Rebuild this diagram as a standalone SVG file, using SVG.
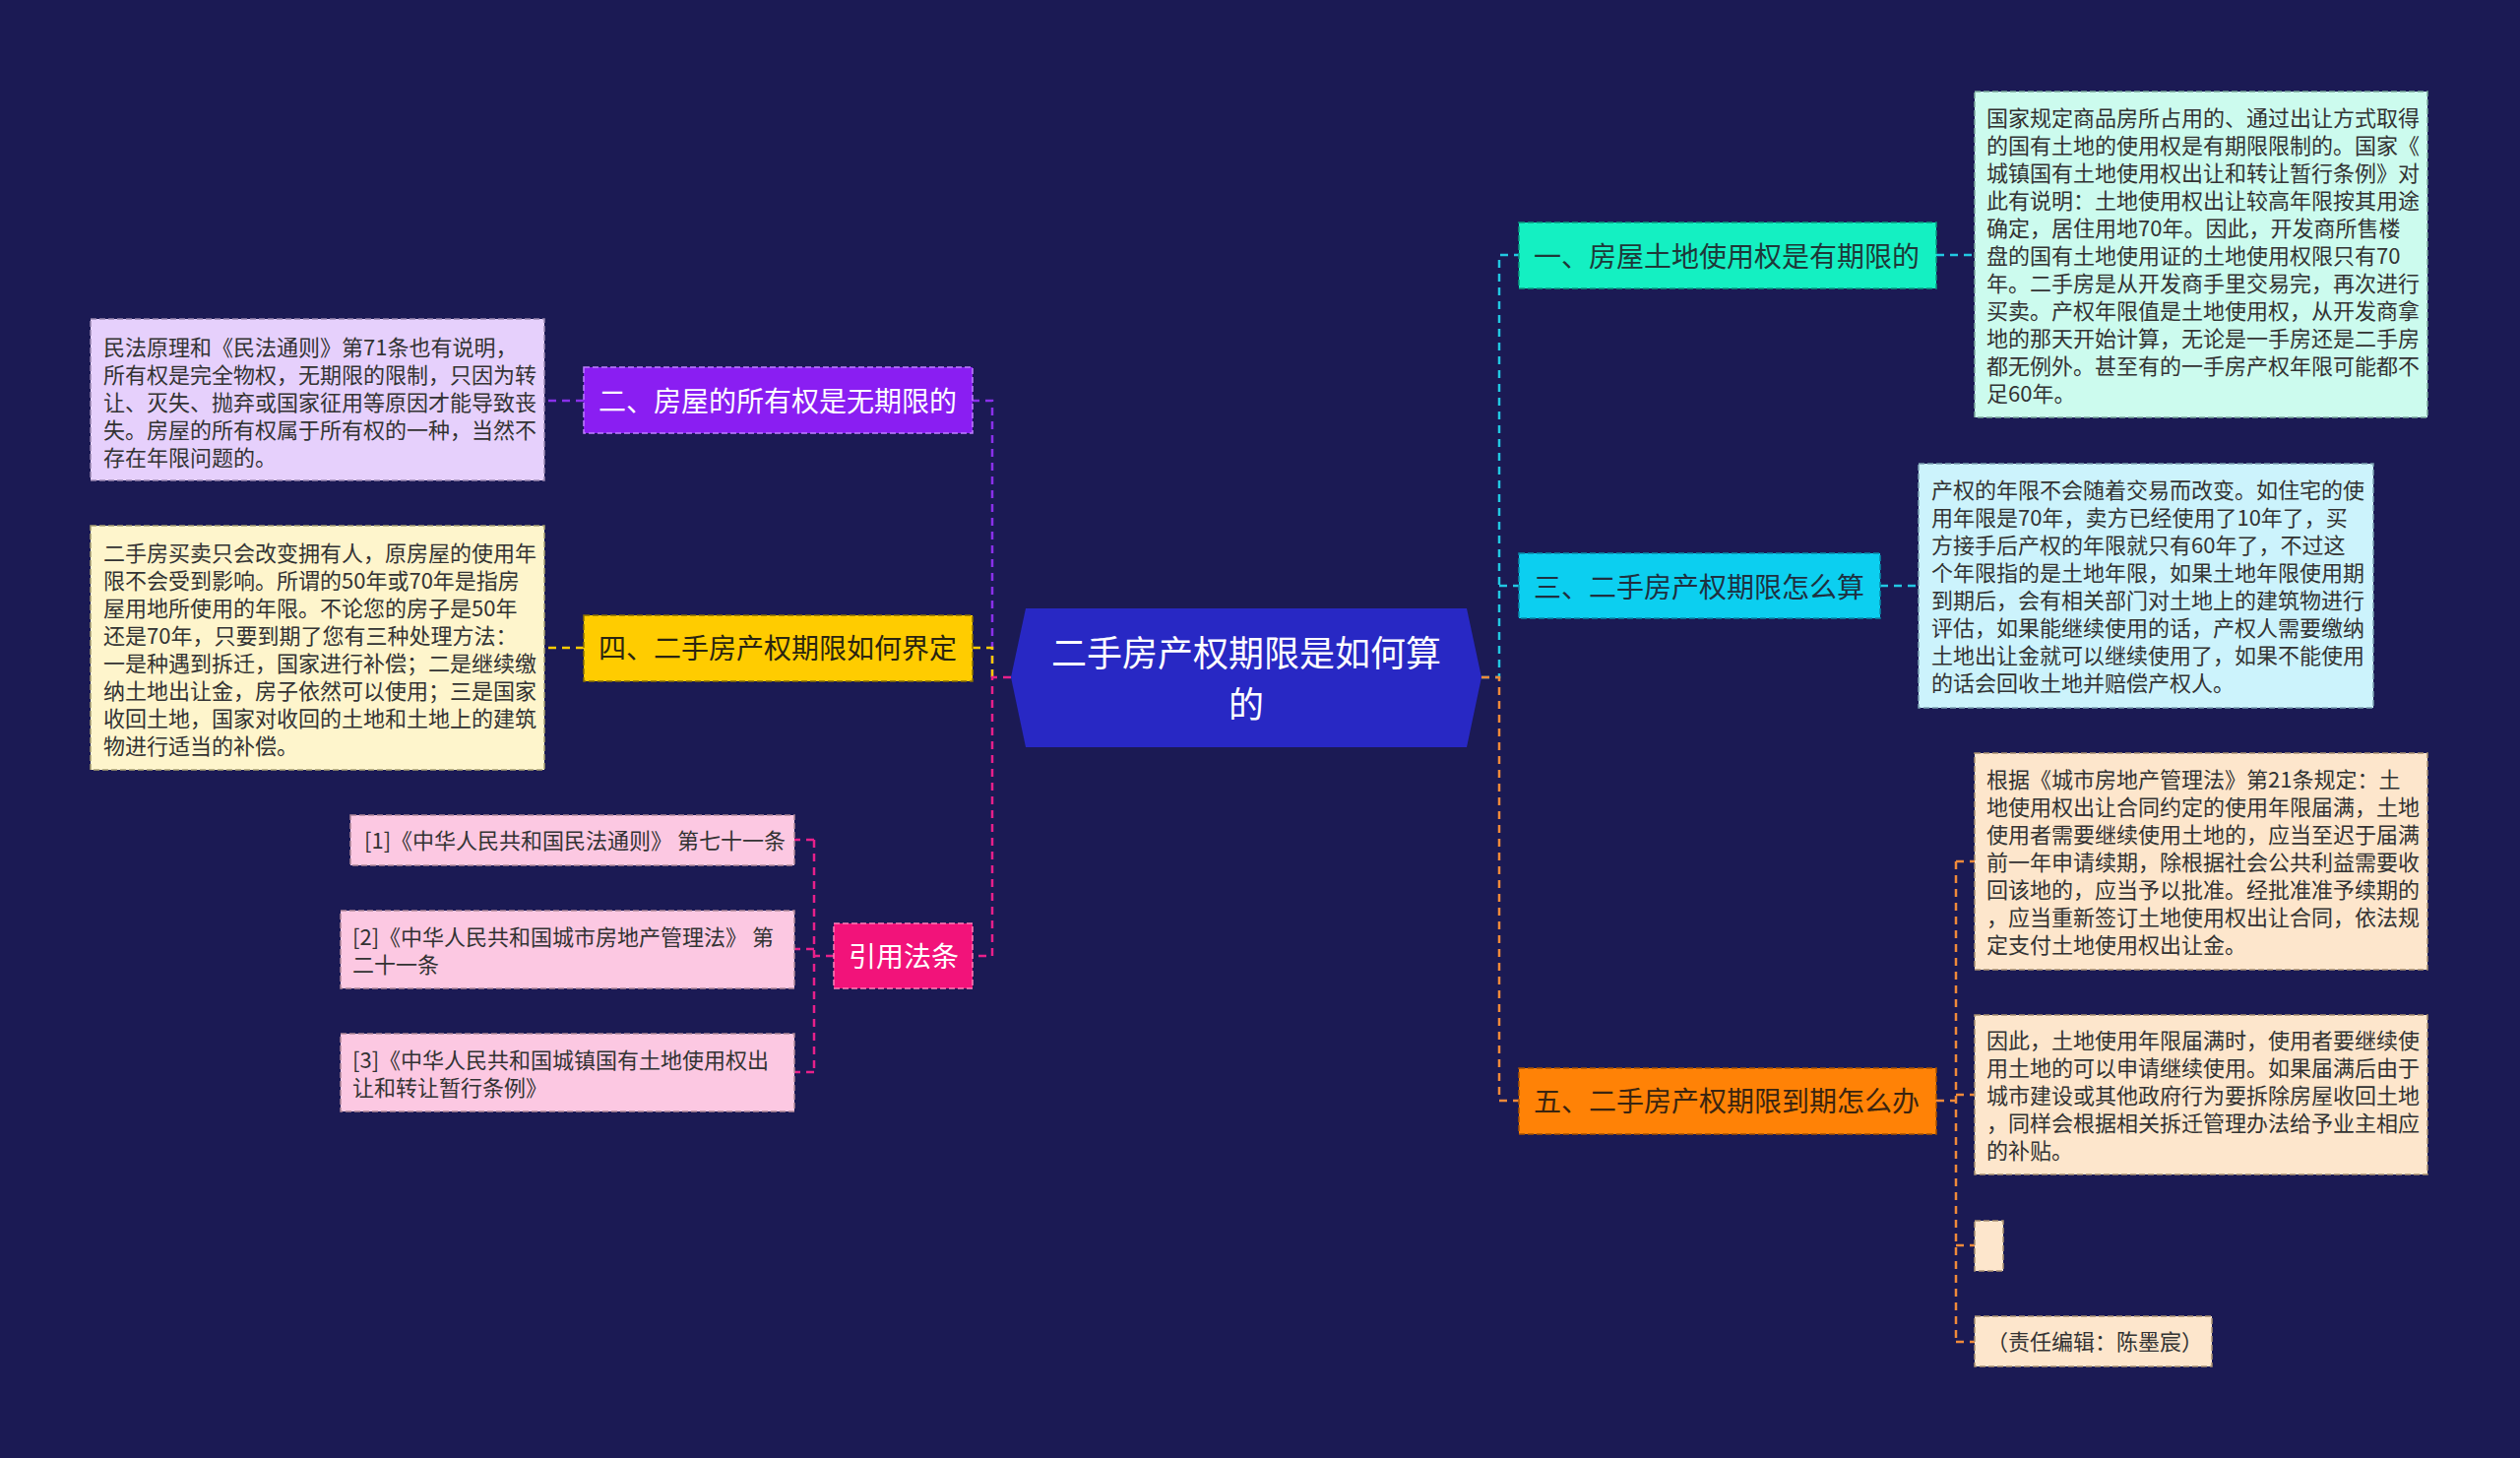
<svg xmlns="http://www.w3.org/2000/svg" width="2560" height="1481" viewBox="0 0 2560 1481">
<style>
text{font-family:"Noto Sans CJK SC","Noto Sans",sans-serif}
.d{font-size:22px;fill:#333}
.m{font-size:28px}
.c{stroke-width:2.5;fill:none;stroke-dasharray:8 6}
.bx{stroke-width:1.5;stroke-dasharray:6 3}
</style>
<rect width="2560" height="1481" fill="#1b1a54"/>
<g id="connectors">
<path class="c" stroke="#22c8e2" d="M1505,688 H1523 V259 H1543 M1523,595 H1543"/>
<path class="c" stroke="#f08a3a" d="M1505,688 H1523 V1118 H1543"/>
<path class="c" stroke="#22c8e2" d="M1967,259 H2006 M1910,595 H1949"/>
<path class="c" stroke="#f08a3a" d="M1967,1118 H1987 M1987,875 V1363 M1987,875 H2006 M1987,1112 H2006 M1987,1265 H2006 M1987,1363 H2006"/>
<path class="c" stroke="#8a30ea" d="M1008,688 V407 H988"/>
<path class="c" stroke="#ffcc00" d="M1008,688 V658 H988"/>
<path class="c" stroke="#e8208a" d="M1027,688 H1008 V971 H988"/>
<path class="c" stroke="#8a30ea" d="M593,407 H553"/>
<path class="c" stroke="#ffcc00" d="M593,658 H553"/>
<path class="c" stroke="#e8208a" d="M847,971 H827 M827,853 V1089 M827,853 H807 M827,964 H807 M827,1089 H807"/>
</g>
<g id="center">
<polygon points="1027,688 1042,618 1490,618 1505,688 1490,759 1042,759" fill="#2828c4"/>
<text x="1266" y="677" text-anchor="middle" font-size="36" fill="#fff">二手房产权期限是如何算</text>
<text x="1266" y="729" text-anchor="middle" font-size="36" fill="#fff">的</text>
</g>
<g id="n1">
<rect class="bx" x="1543" y="226" width="424" height="67" fill="#14f0c2" stroke="#0a9a80"/>
<text class="m" x="1558" y="271" fill="#1e3838">一、房屋土地使用权是有期限的</text>
</g>
<g id="n3">
<rect class="bx" x="1543" y="562" width="367" height="66" fill="#0ccff0" stroke="#088aa8"/>
<text class="m" x="1558" y="607" fill="#1e3040">三、二手房产权期限怎么算</text>
</g>
<g id="n5">
<rect class="bx" x="1543" y="1085" width="424" height="67" fill="#ff8206" stroke="#a85200"/>
<text class="m" x="1558" y="1129" fill="#3a2410">五、二手房产权期限到期怎么办</text>
</g>
<g id="n2">
<rect class="bx" x="593" y="373" width="395" height="67" fill="#8a1ef2" stroke="#c080ff"/>
<text class="m" x="608" y="418" fill="#fff">二、房屋的所有权是无期限的</text>
</g>
<g id="n4">
<rect class="bx" x="593" y="625" width="395" height="67" fill="#ffcc00" stroke="#8a7000"/>
<text class="m" x="608" y="669" fill="#2a2410">四、二手房产权期限如何界定</text>
</g>
<g id="nref">
<rect class="bx" x="847" y="938" width="141" height="66" fill="#f2137a" stroke="#ff80b8"/>
<text class="m" x="862" y="982" fill="#fff">引用法条</text>
</g>
<g id="d1">
<rect class="bx" x="2006" y="93" width="460" height="331" fill="#ccfbee" stroke="#7aa89a"/>
<text class="d" x="2018" y="128">国家规定商品房所占用的、通过出让方式取得</text>
<text class="d" x="2018" y="156">的国有土地的使用权是有期限限制的。国家《</text>
<text class="d" x="2018" y="184">城镇国有土地使用权出让和转让暂行条例》对</text>
<text class="d" x="2018" y="212">此有说明：土地使用权出让较高年限按其用途</text>
<text class="d" x="2018" y="240">确定，居住用地70年。因此，开发商所售楼</text>
<text class="d" x="2018" y="268">盘的国有土地使用证的土地使用权限只有70</text>
<text class="d" x="2018" y="296">年。二手房是从开发商手里交易完，再次进行</text>
<text class="d" x="2018" y="324">买卖。产权年限值是土地使用权，从开发商拿</text>
<text class="d" x="2018" y="352">地的那天开始计算，无论是一手房还是二手房</text>
<text class="d" x="2018" y="380">都无例外。甚至有的一手房产权年限可能都不</text>
<text class="d" x="2018" y="408">足60年。</text>
</g>
<g id="d2">
<rect class="bx" x="1949" y="471" width="462" height="248" fill="#ccf3fc" stroke="#7aa0b0"/>
<text class="d" x="1962" y="506">产权的年限不会随着交易而改变。如住宅的使</text>
<text class="d" x="1962" y="534">用年限是70年，卖方已经使用了10年了，买</text>
<text class="d" x="1962" y="562">方接手后产权的年限就只有60年了，不过这</text>
<text class="d" x="1962" y="590">个年限指的是土地年限，如果土地年限使用期</text>
<text class="d" x="1962" y="618">到期后，会有相关部门对土地上的建筑物进行</text>
<text class="d" x="1962" y="646">评估，如果能继续使用的话，产权人需要缴纳</text>
<text class="d" x="1962" y="674">土地出让金就可以继续使用了，如果不能使用</text>
<text class="d" x="1962" y="702">的话会回收土地并赔偿产权人。</text>
</g>
<g id="d3">
<rect class="bx" x="2006" y="765" width="460" height="220" fill="#fde6cc" stroke="#a89070"/>
<text class="d" x="2018" y="800">根据《城市房地产管理法》第21条规定：土</text>
<text class="d" x="2018" y="828">地使用权出让合同约定的使用年限届满，土地</text>
<text class="d" x="2018" y="856">使用者需要继续使用土地的，应当至迟于届满</text>
<text class="d" x="2018" y="884">前一年申请续期，除根据社会公共利益需要收</text>
<text class="d" x="2018" y="912">回该地的，应当予以批准。经批准准予续期的</text>
<text class="d" x="2018" y="940">，应当重新签订土地使用权出让合同，依法规</text>
<text class="d" x="2018" y="968">定支付土地使用权出让金。</text>
</g>
<g id="d4">
<rect class="bx" x="2006" y="1031" width="460" height="162" fill="#fde6cc" stroke="#a89070"/>
<text class="d" x="2018" y="1065">因此，土地使用年限届满时，使用者要继续使</text>
<text class="d" x="2018" y="1093">用土地的可以申请继续使用。如果届满后由于</text>
<text class="d" x="2018" y="1121">城市建设或其他政府行为要拆除房屋收回土地</text>
<text class="d" x="2018" y="1149">，同样会根据相关拆迁管理办法给予业主相应</text>
<text class="d" x="2018" y="1177">的补贴。</text>
</g>
<g id="d5">
<rect class="bx" x="2006" y="1240" width="29" height="51" fill="#fde6cc" stroke="#a89070"/>
</g>
<g id="d6">
<rect class="bx" x="2006" y="1337" width="241" height="51" fill="#fde6cc" stroke="#a89070"/>
<text class="d" x="2018" y="1371">（责任编辑：陈墨宸）</text>
</g>
<g id="l1">
<rect class="bx" x="92" y="324" width="461" height="164" fill="#e6d0fc" stroke="#9a88b0"/>
<text class="d" x="105" y="361">民法原理和《民法通则》第71条也有说明，</text>
<text class="d" x="105" y="389">所有权是完全物权，无期限的限制，只因为转</text>
<text class="d" x="105" y="417">让、灭失、抛弃或国家征用等原因才能导致丧</text>
<text class="d" x="105" y="445">失。房屋的所有权属于所有权的一种，当然不</text>
<text class="d" x="105" y="473">存在年限问题的。</text>
</g>
<g id="l2">
<rect class="bx" x="92" y="534" width="461" height="248" fill="#fef5cc" stroke="#a8a070"/>
<text class="d" x="105" y="570">二手房买卖只会改变拥有人，原房屋的使用年</text>
<text class="d" x="105" y="598">限不会受到影响。所谓的50年或70年是指房</text>
<text class="d" x="105" y="626">屋用地所使用的年限。不论您的房子是50年</text>
<text class="d" x="105" y="654">还是70年，只要到期了您有三种处理方法：</text>
<text class="d" x="105" y="682">一是种遇到拆迁，国家进行补偿；二是继续缴</text>
<text class="d" x="105" y="710">纳土地出让金，房子依然可以使用；三是国家</text>
<text class="d" x="105" y="738">收回土地，国家对收回的土地和土地上的建筑</text>
<text class="d" x="105" y="766">物进行适当的补偿。</text>
</g>
<g id="r1">
<rect class="bx" x="356" y="828" width="451" height="51" fill="#fcc8e2" stroke="#b08898"/>
<text class="d" x="370" y="862">[1]《中华人民共和国民法通则》 第七十一条</text>
</g>
<g id="r2">
<rect class="bx" x="346" y="925" width="461" height="79" fill="#fcc8e2" stroke="#b08898"/>
<text class="d" x="358" y="960">[2]《中华人民共和国城市房地产管理法》 第</text>
<text class="d" x="358" y="988">二十一条</text>
</g>
<g id="r3">
<rect class="bx" x="346" y="1050" width="461" height="79" fill="#fcc8e2" stroke="#b08898"/>
<text class="d" x="358" y="1085">[3]《中华人民共和国城镇国有土地使用权出</text>
<text class="d" x="358" y="1113">让和转让暂行条例》</text>
</g>
</svg>
